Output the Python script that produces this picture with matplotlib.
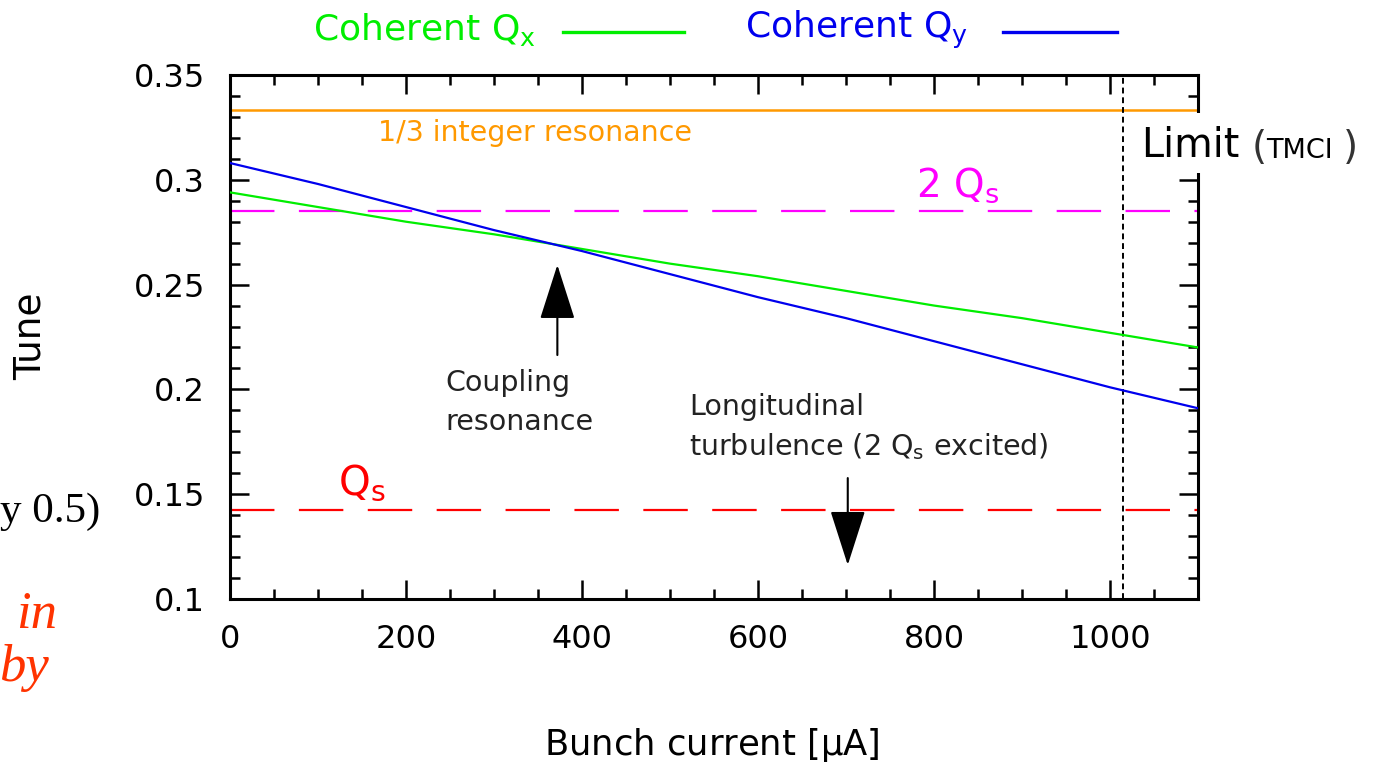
import matplotlib
matplotlib.use("Agg")
import matplotlib.pyplot as plt
from matplotlib.patches import Rectangle
from matplotlib.ticker import MultipleLocator

plt.rcParams['font.family'] = ['DejaVu Sans']

# ---- data ----
current = [0, 100, 200, 300, 400, 500, 600, 700, 800, 900, 1000, 1100]
qx = [0.294, 0.287, 0.280, 0.274, 0.267, 0.260, 0.254, 0.247, 0.240, 0.234, 0.227, 0.220]
qy = [0.308, 0.298, 0.287, 0.276, 0.266, 0.255, 0.244, 0.234, 0.223, 0.212, 0.201, 0.191]
third_integer = 1 / 3
qs = 0.1425
two_qs = 0.285
tmci_limit = 1015
coupling_x = 372
coupling_arrow = (0.2164, 0.2594)
turb_x = 702
turb_arrow = (0.1577, 0.1162)
xticks = [0, 200, 400, 600, 800, 1000]
yticks = [0.1, 0.15, 0.2, 0.25, 0.3, 0.35]
ytick_labels = ['0.1', '0.15', '0.2', '0.25', '0.3', '0.35']

W, H = 1380, 764
fig = plt.figure(figsize=(W / 100, H / 100), dpi=100)
ax = fig.add_axes([230 / W, 1 - 599 / H, (1198 - 230) / W, (599 - 75) / H])
ax.set_xlim(0, 1100)
ax.set_ylim(0.1, 0.35)

GREEN = '#00ee00'
BLUE = '#0000ee'
ORANGE = '#ff9900'
MAGENTA = '#ff00ff'
RED = '#ff0000'

ax.plot(current, qx, color=GREEN, lw=1.6, zorder=3)
ax.plot(current, qy, color=BLUE, lw=1.6, zorder=3)
ax.axhline(third_integer, color=ORANGE, lw=1.8, zorder=2)
ax.axhline(two_qs, color=MAGENTA, lw=1.6, dashes=(20, 11), zorder=2)
ax.axhline(qs, color=RED, lw=1.6, dashes=(20, 11), zorder=2)
ax.axvline(tmci_limit, color='black', lw=1.4, dashes=(3, 2), zorder=2)

arrow_kw = dict(arrowstyle='-|>,head_width=0.4,head_length=1.25', color='black',
                lw=1.5, mutation_scale=28, shrinkA=0, shrinkB=0)
ax.annotate('', xy=(coupling_x, coupling_arrow[1]), xytext=(coupling_x, coupling_arrow[0]),
            arrowprops=arrow_kw, zorder=4)
ax.annotate('', xy=(turb_x, turb_arrow[1]), xytext=(turb_x, turb_arrow[0]),
            arrowprops=arrow_kw, zorder=4)

# ticks
ax.set_xticks(xticks)
ax.set_xticklabels([str(v) for v in xticks])
ax.set_yticks(yticks)
ax.set_yticklabels(ytick_labels)
ax.xaxis.set_minor_locator(MultipleLocator(50))
ax.yaxis.set_minor_locator(MultipleLocator(0.01))
ax.tick_params(which='both', direction='in', top=True, right=True, width=1.8, colors='black')
ax.tick_params(which='major', length=14)
ax.tick_params(which='minor', length=7)
ax.tick_params(axis='x', which='major', pad=18, labelsize=23)
ax.tick_params(axis='y', which='major', pad=18, labelsize=23)
for s in ax.spines.values():
    s.set_linewidth(2.2)

# in-plot texts
def ftext(x, y, s, **kw):
    fig.text(x / W, 1 - y / H, s, **kw)

TXT = '#222222'
ftext(378, 133, '1/3 integer resonance', color=ORANGE, fontsize=20.5, va='center', ha='left')
ftext(445, 383, 'Coupling', color=TXT, fontsize=20.5, va='center', ha='left')
ftext(445, 422, 'resonance', color=TXT, fontsize=20.5, va='center', ha='left')
ftext(689, 407, 'Longitudinal', color=TXT, fontsize=20.5, va='center', ha='left')
ftext(689, 447, r'turbulence (2 Q$_\mathregular{s}$ excited)', color=TXT, fontsize=20.5,
      va='center', ha='left')
ftext(338, 483, r'Q$_\mathregular{s}$', color=RED, fontsize=29, va='center', ha='left')
ftext(916, 185, r'2 Q$_\mathregular{s}$', color=MAGENTA, fontsize=28, va='center', ha='left')

# Limit label with white backing that hides part of the right spine
fig.patches.append(Rectangle((1135 / W, 1 - 173 / H), 240 / W, 60 / H,
                             transform=fig.transFigure, facecolor='white',
                             edgecolor='none', zorder=5))
ftext(1141, 146, 'Limit', color='black', fontsize=28.5, va='center', ha='left', zorder=6)
ftext(1252, 148, '(', color='#333333', fontsize=28, va='center', ha='left', zorder=6)
ftext(1266, 151, 'TMCI', color='black', fontsize=19.5, va='center', ha='left', zorder=6)
ftext(1343, 148, ')', color='#333333', fontsize=28, va='center', ha='left', zorder=6)

# legend at top
ftext(313, 30, r'Coherent Q$_\mathregular{x}$', color=GREEN, fontsize=26, va='center', ha='left')
ftext(745, 30, r'Coherent Q$_\mathregular{y}$', color=BLUE, fontsize=26, va='center', ha='left')
fig.lines.append(plt.Line2D([563 / W, 684 / W], [1 - 32 / H, 1 - 32 / H],
                            transform=fig.transFigure, color=GREEN, lw=2.4))
fig.lines.append(plt.Line2D([1003 / W, 1117 / W], [1 - 32 / H, 1 - 32 / H],
                            transform=fig.transFigure, color=BLUE, lw=2.4))

# axis labels
ftext(712, 745, r'Bunch current [$\mathregular{\mu}$A]', color='black', fontsize=25.5,
      va='center', ha='center')
ftext(31, 336, 'Tune', color='black', fontsize=27, va='center', ha='center', rotation=90)

# slide fragments at the left edge
ftext(100, 512, 'y 0.5)', color='black', fontsize=31, va='center', ha='right',
      family='Liberation Serif')
ftext(57, 615, 'in', color='#ff3300', fontsize=38, va='center', ha='right',
      family='Liberation Serif', style='italic')
ftext(49, 668, 'by', color='#ff3300', fontsize=38, va='center', ha='right',
      family='Liberation Serif', style='italic')

fig.savefig('out.png', dpi=100, facecolor='white')
